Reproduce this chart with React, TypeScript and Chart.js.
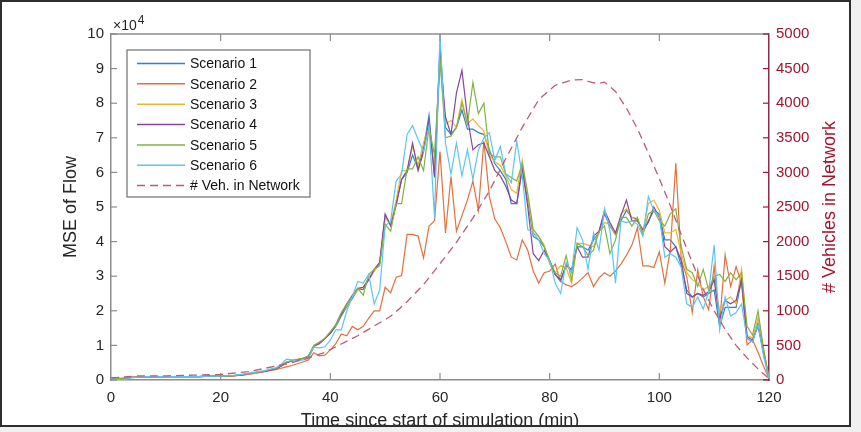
import { useEffect, useRef } from "react";
import { Chart, registerables } from "chart.js";

Chart.register(...registerables);

// ---------------- data ----------------
const minutes = [0, 2, 4, 6, 8, 10, 12, 14, 16, 18, 20, 22, 24, 26, 28, 30, 31, 32, 33, 34, 35, 36, 37, 38, 39, 40, 41, 42, 43, 44, 45, 46, 47, 48, 49, 50, 51, 52, 53, 54, 55, 56, 57, 58, 59, 60, 61, 62, 63, 64, 65, 66, 67, 68, 69, 70, 71, 72, 73, 74, 75, 76, 77, 78, 79, 80, 81, 82, 83, 84, 85, 86, 87, 88, 89, 90, 91, 92, 93, 94, 95, 96, 97, 98, 99, 100, 101, 102, 103, 104, 105, 106, 107, 108, 109, 110, 111, 112, 113, 114, 115, 116, 117, 118, 119, 120];

// MSE of Flow, in units of 10^4
const scenario1 = [0.05, 0.04, 0.08, 0.1, 0.09, 0.1, 0.1, 0.1, 0.1, 0.11, 0.11, 0.12, 0.15, 0.2, 0.25,
  0.33, 0.4, 0.5, 0.55, 0.58, 0.62, 0.68, 0.98, 1.08, 1.2, 1.35, 1.55, 1.85, 2.12, 2.35, 2.62, 2.62, 2.9, 3.15, 3.38,
  4.75, 4.5, 5.1, 5.8, 6.0, 6.5, 6.1, 6.7, 7.65, 5.85, 9.7, 7.3, 7.1, 7.3, 7.8, 7.25, 7.25, 7.15, 7.1, 6.65,
  6.25, 6.05, 5.8, 5.1, 5.1, 6.1, 5.2, 4.15, 4.05, 3.85, 3.45, 3.05, 2.85, 3.35, 3.15, 3.85, 3.85, 3.75, 4.05, 4.25,
  4.8, 4.45, 4.2, 4.6, 4.9, 4.7, 4.65, 4.25, 4.6, 4.9, 4.8, 4.05, 4.05, 3.85, 3.3, 2.6, 2.4, 2.5, 2.4, 2.5,
  2.6, 1.55, 2.1, 2.1, 2.1, 2.9, 1.2, 1.1, 1.65, 0.8, 0.05];
const scenario2 = [0.05, 0.05, 0.08, 0.09, 0.09, 0.1, 0.1, 0.1, 0.1, 0.11, 0.11, 0.12, 0.14, 0.18, 0.24,
  0.3, 0.34, 0.38, 0.42, 0.47, 0.52, 0.58, 0.79, 0.7, 0.72, 0.87, 1.05, 1.33, 1.28, 1.55, 1.45, 1.55, 1.79, 2.0, 2.0,
  2.68, 2.52, 2.97, 3.02, 4.21, 4.21, 4.16, 3.53, 4.45, 4.6, 6.6, 4.25, 5.88, 4.3, 4.75, 5.2, 5.75, 4.9, 6.9, 5.3,
  4.65, 4.4, 4.0, 3.55, 3.47, 4.05, 3.75, 3.15, 2.8, 3.1, 3.15, 3.35, 2.85, 2.75, 2.7, 2.8, 2.95, 3.1, 2.7, 2.95,
  3.1, 3.0, 3.15, 3.35, 3.6, 3.9, 4.4, 3.3, 3.3, 3.25, 3.7, 2.8, 3.76, 6.26, 3.47, 2.99, 1.95, 3.18, 2.41, 2.03,
  3.28, 1.64, 3.62, 2.7, 3.28, 2.8, 1.01, 1.16, 0.8, 0.4, 0.05];
const scenario3 = [0.05, 0.04, 0.08, 0.1, 0.09, 0.1, 0.1, 0.1, 0.1, 0.11, 0.11, 0.12, 0.15, 0.2, 0.26,
  0.33, 0.42, 0.52, 0.56, 0.6, 0.62, 0.7, 1.0, 1.07, 1.18, 1.38, 1.58, 1.9, 2.15, 2.4, 2.6, 2.68, 2.95, 3.15, 3.35,
  4.7, 4.5, 5.2, 6.05, 6.05, 6.75, 6.2, 6.85, 7.4, 6.0, 9.2, 7.4, 7.5, 7.3, 8.1, 7.4, 7.55, 7.35, 7.2, 6.5,
  6.3, 6.2, 5.9, 5.5, 5.4, 6.35, 5.3, 4.25, 4.15, 3.9, 3.35, 3.1, 3.3, 3.25, 2.8, 3.95, 3.95, 3.9, 3.85, 4.3,
  4.55, 4.5, 4.2, 4.8, 4.95, 4.7, 4.6, 4.3, 5.1, 5.2, 4.9, 4.25, 4.25, 4.35, 3.65, 3.1, 2.9, 2.8, 2.6, 2.7,
  2.9, 2.0, 2.3, 2.4, 2.2, 3.2, 1.3, 1.2, 1.8, 0.9, 0.05];
const scenario4 = [0.05, 0.04, 0.08, 0.1, 0.1, 0.1, 0.1, 0.1, 0.1, 0.11, 0.11, 0.12, 0.15, 0.21, 0.25,
  0.32, 0.4, 0.5, 0.55, 0.58, 0.63, 0.68, 0.98, 1.05, 1.2, 1.35, 1.6, 1.9, 2.2, 2.45, 2.65, 2.68, 2.9, 3.2, 3.4,
  4.8, 4.45, 5.05, 5.8, 6.05, 6.85, 6.05, 6.6, 7.5, 5.9, 9.4, 7.6, 7.1, 8.3, 8.95, 7.6, 6.65, 6.8, 6.85, 6.45,
  6.05, 5.9, 5.6, 5.2, 5.1, 6.15, 5.0, 3.65, 3.45, 3.75, 3.45, 3.05, 2.9, 3.3, 3.2, 3.85, 3.55, 3.55, 4.15, 4.3,
  4.9, 4.55, 4.25, 4.75, 5.2, 4.6, 4.6, 4.35, 4.55, 5.0, 4.7, 3.85, 3.7, 3.85, 3.45, 2.5, 2.4, 2.5, 2.45, 2.55,
  2.9, 1.75, 2.3, 2.2, 2.3, 2.9, 1.25, 1.15, 1.55, 0.8, 0.05];
const scenario5 = [0.05, 0.04, 0.08, 0.1, 0.1, 0.1, 0.1, 0.1, 0.1, 0.11, 0.11, 0.12, 0.16, 0.21, 0.26,
  0.34, 0.42, 0.52, 0.56, 0.6, 0.62, 0.7, 1.0, 1.1, 1.2, 1.4, 1.6, 1.95, 2.2, 2.4, 2.65, 2.45, 3.05, 3.2, 3.3,
  4.5, 4.3, 5.1, 5.1, 6.1, 6.1, 6.45, 6.05, 7.3, 6.5, 9.3, 7.0, 7.05, 7.3, 8.0, 7.4, 8.6, 7.7, 8.0, 6.55,
  6.45, 6.45, 5.95, 5.85, 5.75, 6.25, 5.4, 4.35, 4.15, 3.85, 3.45, 3.1, 3.0, 3.6, 2.9, 3.95, 3.85, 3.6, 3.75, 4.3,
  4.45, 3.65, 4.05, 4.7, 4.7, 4.45, 4.7, 4.2, 4.8, 4.9, 4.6, 4.45, 4.8, 4.95, 3.85, 3.2, 3.1, 2.7, 3.2, 2.6,
  3.0, 3.05, 2.85, 3.1, 2.9, 3.1, 1.55, 1.3, 2.0, 0.9, 0.05];
const scenario6 = [0.04, 0.0, 0.07, 0.1, 0.1, 0.1, 0.1, 0.1, 0.1, 0.11, 0.11, 0.13, 0.17, 0.22, 0.27,
  0.35, 0.45, 0.6, 0.58, 0.55, 0.58, 0.62, 0.95, 0.93, 0.96, 1.15, 1.45, 1.45, 2.0, 2.4, 2.85, 2.8, 3.05, 2.2, 2.6,
  4.45, 4.6, 5.75, 5.95, 7.1, 7.35, 6.95, 6.6, 7.35, 4.7, 10.0, 6.85, 5.95, 6.85, 5.9, 6.65, 5.8, 6.65, 7.0, 7.15,
  6.35, 6.75, 5.95, 5.7, 6.9, 5.9, 4.35, 4.25, 4.05, 3.65, 3.45, 2.8, 2.5, 3.4, 3.1, 4.4, 4.05, 3.2, 4.25, 3.75,
  4.95, 4.3, 2.8, 4.6, 4.55, 4.6, 4.5, 4.15, 5.3, 4.9, 4.75, 3.55, 3.65, 3.55, 3.25, 2.2, 2.1, 2.4, 2.05, 2.55,
  3.9, 1.45, 2.4, 1.85, 1.95, 2.2, 1.2, 1.1, 1.6, 0.7, 0.05];

// # vehicles in network (right axis)
const vehTimes = [0, 5, 10, 15, 20, 25, 30, 33, 36, 39, 42, 45, 48, 51, 54, 57, 60, 63, 66, 69, 72, 75, 78, 81, 84, 86, 88, 89, 90, 92, 94, 96, 98, 100, 102, 104, 106, 108, 110, 112, 114, 116, 118, 120];
const vehCounts = [30, 60, 60, 70, 80, 120, 200, 250, 320, 400, 520, 640, 780, 920, 1130, 1380, 1680, 1990, 2340, 2730, 3200, 3650, 4050, 4260, 4335, 4340, 4295, 4285, 4305, 4170, 3930, 3630, 3280, 2910, 2520, 2100, 1700, 1310, 1000, 730, 500, 320, 160, 20];

const scenarioLabels = ["Scenario 1", "Scenario 2", "Scenario 3", "Scenario 4", "Scenario 5", "Scenario 6"];
const vehLabel = "# Veh. in Network";
const scenarioColors = ["#2f84c6", "#e2703f", "#ecb530", "#88449a", "#80b343", "#5ec4ef"];
const vehColor = "#bc5a78";

// ---------------- styling ----------------
const FONT = "'Liberation Sans', Arial, Helvetica, sans-serif";
const AXIS_GRAY = "#8c8c8c";
const TEXT_DARK = "#262626";
const MAROON = "#a2142f";
const BG_OUT = "#f0f0f0";
const FRAME_W = 851;
const FRAME_H = 427;

const matlabPlugin: any = {
  id: "matlabLook",
  beforeDraw(chart: any) {
    const { ctx, width, height } = chart;
    ctx.save();
    ctx.fillStyle = BG_OUT;
    ctx.fillRect(0, 0, width, height);
    ctx.fillStyle = "#ffffff";
    ctx.fillRect(0, 0, FRAME_W, FRAME_H);
    ctx.restore();
  },
  afterDraw(chart: any) {
    const { ctx, chartArea: ca, scales, width, height } = chart;
    const xs = scales.x;
    const ys = scales.y;
    const yr = scales.yR;
    const seg = (x1: number, y1: number, x2: number, y2: number) => {
      ctx.beginPath();
      ctx.moveTo(x1, y1);
      ctx.lineTo(x2, y2);
      ctx.stroke();
    };
    ctx.save();
    // top box line
    ctx.strokeStyle = AXIS_GRAY;
    ctx.lineWidth = 1.5;
    seg(ca.left, ca.top, ca.right, ca.top);
    // inward x ticks (bottom and top)
    ctx.lineWidth = 1.2;
    xs.ticks.forEach((t: any) => {
      const px = xs.getPixelForValue(t.value);
      if (px <= ca.left + 1 || px >= ca.right - 1) return;
      seg(px, ca.bottom, px, ca.bottom - 7);
      seg(px, ca.top, px, ca.top + 7);
    });
    // inward left y ticks
    ys.ticks.forEach((t: any) => {
      const py = ys.getPixelForValue(t.value);
      seg(ca.left, py, ca.left + 6, py);
    });
    // inward right y ticks
    ctx.strokeStyle = MAROON;
    yr.ticks.forEach((t: any) => {
      const py = yr.getPixelForValue(t.value);
      seg(ca.right - 6, py, ca.right, py);
    });

    // legend box
    const bx = ca.left + 16;
    const by = ca.top + 16;
    const bw = 183;
    const bh = 147;
    ctx.fillStyle = "#ffffff";
    ctx.fillRect(bx, by, bw, bh);
    ctx.strokeStyle = "#6e6e6e";
    ctx.lineWidth = 1.2;
    ctx.strokeRect(bx, by, bw, bh);
    ctx.font = `14px ${FONT}`;
    ctx.textBaseline = "middle";
    ctx.textAlign = "left";
    chart.data.datasets.forEach((ds: any, i: number) => {
      const ry = by + 13.5 + i * 20.35;
      ctx.strokeStyle = ds.borderColor;
      ctx.lineWidth = 1.5;
      ctx.setLineDash(ds.borderDash || []);
      seg(bx + 10, ry, bx + 58, ry);
      ctx.setLineDash([]);
      ctx.fillStyle = "#111111";
      ctx.fillText(ds.label, bx + 63, ry + 1);
    });

    // exponent label
    ctx.fillStyle = TEXT_DARK;
    ctx.textBaseline = "alphabetic";
    ctx.font = `14px ${FONT}`;
    ctx.fillText("\u00d710", ca.left + 2, ca.top - 4);
    const w10 = ctx.measureText("\u00d710").width;
    ctx.font = `12px ${FONT}`;
    ctx.fillText("4", ca.left + 2 + w10 + 1, ca.top - 10);

    // right axis title (reads bottom-to-top like MATLAB)
    ctx.save();
    ctx.translate(830, (ca.top + ca.bottom) / 2);
    ctx.rotate(-Math.PI / 2);
    ctx.font = `18px ${FONT}`;
    ctx.fillStyle = MAROON;
    ctx.textAlign = "center";
    ctx.textBaseline = "middle";
    ctx.fillText("# Vehicles in Network", 0, 0);
    ctx.restore();

    // clip everything outside the figure frame
    ctx.fillStyle = BG_OUT;
    ctx.fillRect(FRAME_W, 0, width - FRAME_W, height);
    ctx.fillRect(0, FRAME_H, width, height - FRAME_H);
    ctx.strokeStyle = "#2e2e2e";
    ctx.lineWidth = 2;
    ctx.strokeRect(1, 1, FRAME_W - 2, FRAME_H - 2);
    ctx.restore();
  },
};

const scenarioSeries = [scenario1, scenario2, scenario3, scenario4, scenario5, scenario6];

export default function App() {
  const canvasRef = useRef<HTMLCanvasElement | null>(null);

  useEffect(() => {
    document.body.style.margin = "0";
    const canvas = canvasRef.current;
    if (!canvas) return;

    const datasets: any[] = scenarioSeries.map((vals, i) => ({
      label: scenarioLabels[i],
      data: minutes.map((m, k) => ({ x: m, y: vals[k] })),
      borderColor: scenarioColors[i],
      backgroundColor: scenarioColors[i],
      borderWidth: 1.2,
      pointRadius: 0,
      tension: 0,
      fill: false,
      yAxisID: "y",
      order: 7 - i,
    }));
    datasets.push({
      label: vehLabel,
      data: vehTimes.map((m, k) => ({ x: m, y: vehCounts[k] })),
      borderColor: vehColor,
      backgroundColor: vehColor,
      borderWidth: 1.3,
      borderDash: [8, 5],
      pointRadius: 0,
      tension: 0,
      fill: false,
      yAxisID: "yR",
      order: 0,
    });

    const plainTick = (v: any) => String(v);

    const chart = new Chart(canvas, {
      type: "line",
      data: { datasets },
      plugins: [matlabPlugin],
      options: {
        animation: false,
        responsive: false,
        devicePixelRatio: 1,
        layout: { padding: { top: 34, left: 0, right: 0, bottom: 0 } },
        plugins: {
          legend: { display: false },
          tooltip: { enabled: false },
          title: { display: false },
        },
        scales: {
          x: {
            type: "linear",
            min: 0,
            max: 120,
            ticks: { stepSize: 20, color: TEXT_DARK, font: { family: FONT, size: 15 }, padding: 9, maxRotation: 0, callback: plainTick },
            grid: { display: false, drawTicks: false },
            border: { display: true, color: AXIS_GRAY, width: 1.5 },
            title: {
              display: true,
              text: "Time since start of simulation (min)",
              color: TEXT_DARK,
              font: { family: FONT, size: 18 },
              padding: { top: 0, bottom: 0 },
            },
            afterFit: (s: any) => { s.height = 52; },
          },
          y: {
            type: "linear",
            position: "left",
            min: 0,
            max: 10,
            ticks: { stepSize: 1, color: TEXT_DARK, font: { family: FONT, size: 15 }, padding: 7, callback: plainTick },
            grid: { display: false, drawTicks: false },
            border: { display: true, color: AXIS_GRAY, width: 1.5 },
            title: {
              display: true,
              text: "MSE of Flow",
              color: TEXT_DARK,
              font: { family: FONT, size: 18 },
              padding: { top: 60, bottom: 0 },
            },
            afterFit: (s: any) => { s.width = 111; },
          },
          yR: {
            type: "linear",
            position: "right",
            min: 0,
            max: 5000,
            ticks: { stepSize: 500, color: MAROON, font: { family: FONT, size: 15 }, padding: 7, callback: plainTick },
            grid: { display: false, drawTicks: false },
            border: { display: true, color: "#8e2a4a", width: 1.5 },
            afterFit: (s: any) => { s.width = 92; },
          },
        },
      } as any,
    });

    return () => chart.destroy();
  }, []);

  return (
    <div style={{ width: 861, height: 432 }}>
      <canvas ref={canvasRef} width={861} height={432} />
    </div>
  );
}
